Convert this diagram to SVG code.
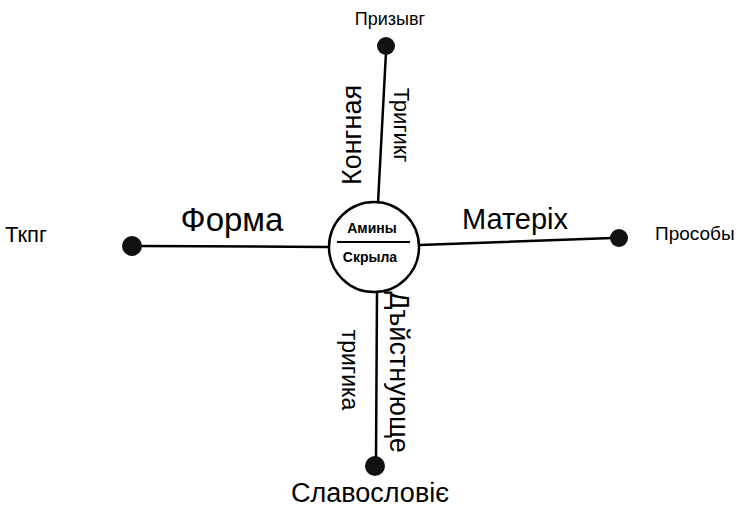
<svg xmlns="http://www.w3.org/2000/svg" width="745" height="513" viewBox="0 0 745 513">
<style>
.ln{stroke:#000;stroke-width:2.5;fill:none;stroke-linecap:round}
.dot{fill:#111}
.t{font-family:"Liberation Sans","DejaVu Sans",sans-serif;fill:#000}
</style>
<rect width="745" height="513" fill="#fff"/>
<g id="connectors">
<path class="ln" d="M386,52 L378,203"/>
<path class="ln" d="M140,246 L328,247"/>
<path class="ln" d="M420,245 L612,238"/>
<path class="ln" d="M377,292 L376,458"/>
</g>
<g id="center">
<circle cx="374" cy="247" r="45" fill="#fff" stroke="#000" stroke-width="2.5"/>
<line x1="337" y1="242" x2="410" y2="242" stroke="#000" stroke-width="2"/>
<text class="t" x="372" y="233" font-size="14" text-anchor="middle" font-weight="bold">Амины</text>
<text class="t" x="370" y="262" font-size="14" text-anchor="middle" font-weight="bold">Скрыла</text>
</g>
<g id="top">
<circle class="dot" cx="386" cy="46" r="9"/>
<text class="t" x="390" y="25" font-size="18" text-anchor="middle">Призывг</text>
<text class="t" font-size="27" text-anchor="middle" transform="translate(361,135) rotate(-90)">Конгная</text>
<text class="t" font-size="22" text-anchor="middle" transform="translate(394,125) rotate(90)">Тригикг</text>
</g>
<g id="left">
<circle class="dot" cx="132" cy="246" r="10"/>
<text class="t" x="5" y="242" font-size="22">Ткпг</text>
<text class="t" x="232" y="231" font-size="33" text-anchor="middle">Форма</text>
</g>
<g id="right">
<circle class="dot" cx="619" cy="238" r="9"/>
<text class="t" x="515" y="229" font-size="29" text-anchor="middle">Матерix</text>
<text class="t" x="655" y="240" font-size="19">Прособы</text>
</g>
<g id="bottom">
<circle class="dot" cx="375" cy="466" r="10"/>
<text class="t" font-size="27" text-anchor="middle" transform="translate(390,372) rotate(90)">Дъйстнующе</text>
<text class="t" font-size="23" text-anchor="middle" transform="translate(342,370) rotate(90)">тригика</text>
<text class="t" x="370" y="502" font-size="27" text-anchor="middle">Славословіє</text>
</g>
</svg>
